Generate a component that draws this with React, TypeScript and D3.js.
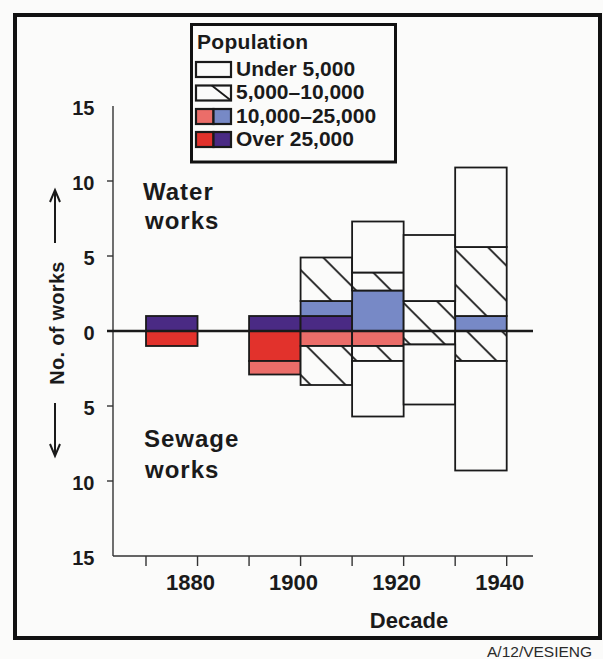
import React from 'react';
import * as d3 from 'd3';

// Decade (start year) of each bar
const decades = [1870, 1890, 1900, 1910, 1920, 1930];
// Water works (upwards), by population class
const waterOver25k = [1, 1, 1, 0, 0, 0];
const water10to25k = [0, 0, 1, 2.7, 0, 1];
const water5to10k = [0, 0, 2.9, 1.2, 2, 4.6];
const waterUnder5k = [0, 0, 0, 3.4, 4.4, 5.3];
// Sewage works (downwards), by population class
const sewageOver25k = [1, 2, 0, 0, 0, 0];
const sewage10to25k = [0, 0.9, 1, 1, 0, 0];
const sewage5to10k = [0, 0, 2.6, 1, 0.9, 2];
const sewageUnder5k = [0, 0, 0, 3.7, 4, 7.3];

const yTickValues = [-15, -10, -5, 0, 5, 10, 15];
const xTickYears = [1870, 1880, 1890, 1900, 1910, 1920, 1930, 1940];
const xLabelYears = [1880, 1900, 1920, 1940];
const legendLabels = ['Under 5,000', '5,000\u201310,000', '10,000\u201325,000', 'Over 25,000'];

const FONT = '"Liberation Sans", Arial, Helvetica, sans-serif';
const BG = '#fbfbfa';
const PURPLE = '#4a2a84';
const BLUE = '#7789c6';
const RED = '#e2322c';
const PINK = '#eb6d69';
const INK = '#1a1a1a';

const keys = ['over', 'mid', 'small', 'under'];

export default function App() {
  const W = 603;
  const H = 659;
  const x = d3.scaleLinear().domain([1870, 1940]).range([146, 506.7]);
  const y = d3.scaleLinear().domain([-15, 15]).range([556, 106]);
  const axisLeft = 113;
  const axisRight = 533;

  const waterRows = decades.map((d, i) => ({
    decade: d,
    over: waterOver25k[i],
    mid: water10to25k[i],
    small: water5to10k[i],
    under: waterUnder5k[i],
  }));
  const sewageRows = decades.map((d, i) => ({
    decade: d,
    over: sewageOver25k[i],
    mid: sewage10to25k[i],
    small: sewage5to10k[i],
    under: sewageUnder5k[i],
  }));
  const stack = d3.stack<any>().keys(keys);
  const waterStack = stack(waterRows);
  const sewageStack = stack(sewageRows);

  const waterFill: Record<string, string> = { over: PURPLE, mid: BLUE, small: 'url(#hatch)', under: BG };
  const sewageFill: Record<string, string> = { over: RED, mid: PINK, small: 'url(#hatch)', under: BG };

  const segs: any[] = [];
  waterStack.forEach((layer) => {
    layer.forEach((p: any) => {
      if (p[1] - p[0] <= 0) return;
      segs.push({ key: 'w' + layer.key + p.data.decade, x0: x(p.data.decade), x1: x(p.data.decade + 10), yTop: y(p[1]), yBot: y(p[0]), fill: waterFill[layer.key] });
    });
  });
  sewageStack.forEach((layer) => {
    layer.forEach((p: any) => {
      if (p[1] - p[0] <= 0) return;
      segs.push({ key: 's' + layer.key + p.data.decade, x0: x(p.data.decade), x1: x(p.data.decade + 10), yTop: y(-p[0]), yBot: y(-p[1]), fill: sewageFill[layer.key] });
    });
  });

  const legX = 196;
  const legRowsY = [62, 85.5, 109, 132];
  const swW = 35;
  const swH = 15;

  return (
    <svg width={W} height={H} style={{ position: 'absolute', left: 0, top: 0 }} fontFamily={FONT}>
      <defs>
        <pattern id="hatch" patternUnits="userSpaceOnUse" x={30.7} y={0} width={35} height={35}>
          <rect width={35} height={35} fill={BG} />
          <path d="M-2,-2 L37,37 M30,-5 L40,5 M-5,30 L5,40" stroke={INK} strokeWidth={1.8} />
        </pattern>
      </defs>
      <rect width={W} height={H} fill={BG} />
      {/* outer frame */}
      <rect x={15} y={15} width={585} height={623} fill="none" stroke="#111" strokeWidth={4} />

      {/* bars */}
      {segs.map((s) => (
        <rect key={s.key} x={s.x0} y={s.yTop} width={s.x1 - s.x0} height={s.yBot - s.yTop} fill={s.fill} stroke={INK} strokeWidth={1.8} />
      ))}

      {/* y axis */}
      <line x1={axisLeft} x2={axisLeft} y1={y(15)} y2={y(-15)} stroke="#333" strokeWidth={1.4} />
      {yTickValues.filter((v) => Math.abs(v) !== 15 && v !== 0).map((v) => (
        <line key={'yt' + v} x1={axisLeft - 6} x2={axisLeft} y1={y(v)} y2={y(v)} stroke="#333" strokeWidth={1.4} />
      ))}
      {yTickValues.map((v) => (
        <text key={'yl' + v} x={94.5} y={y(v) + 9} textAnchor="end" fontSize={20} fontWeight="bold" fill={INK}>
          {Math.abs(v)}
        </text>
      ))}
      {/* zero line */}
      <line x1={axisLeft - 6} x2={axisRight} y1={y(0)} y2={y(0)} stroke={INK} strokeWidth={2.4} />

      {/* x axis */}
      <line x1={axisLeft} x2={axisRight} y1={y(-15)} y2={y(-15)} stroke="#333" strokeWidth={1.4} />
      {xTickYears.map((yr) => (
        <line key={'xt' + yr} x1={x(yr)} x2={x(yr)} y1={y(-15)} y2={y(-15) + 10} stroke="#333" strokeWidth={1.4} />
      ))}
      {xLabelYears.map((yr) => (
        <text key={'xl' + yr} x={x(yr) - 7} y={590} textAnchor="middle" fontSize={22} fontWeight="bold" fill={INK}>
          {yr}
        </text>
      ))}
      <text x={409} y={628} textAnchor="middle" fontSize={22} fontWeight="bold" fill={INK}>Decade</text>

      {/* y title with arrows */}
      <text transform="translate(63.5,323) rotate(-90)" textAnchor="middle" fontSize={20} fontWeight="bold" letterSpacing={0.3} fill={INK}>
        No. of works
      </text>
      <path d="M55,243 L55,191 M50,202 L55,190 L60,202" fill="none" stroke={INK} strokeWidth={2} />
      <path d="M55,403 L55,455 M50,444 L55,456 L60,444" fill="none" stroke={INK} strokeWidth={2} />

      {/* annotations */}
      <text x={143} y={200} fontSize={24} fontWeight="bold" letterSpacing={1} fill={INK}>Water</text>
      <text x={145} y={228.5} fontSize={24} fontWeight="bold" letterSpacing={1} fill={INK}>works</text>
      <text x={144} y={447} fontSize={24} fontWeight="bold" letterSpacing={1} fill={INK}>Sewage</text>
      <text x={145} y={478} fontSize={24} fontWeight="bold" letterSpacing={1} fill={INK}>works</text>

      {/* legend */}
      <rect x={191.5} y={24.5} width={204} height={137.5} fill={BG} stroke="#111" strokeWidth={3} />
      <text x={197} y={48.5} fontSize={21} fontWeight="bold" letterSpacing={0.3} fill={INK}>Population</text>
      {legendLabels.map((lab, i) => {
        const ry = legRowsY[i];
        return (
          <g key={'lg' + i}>
            {i === 0 && <rect x={legX} y={ry} width={swW} height={swH} fill={BG} stroke={INK} strokeWidth={2.2} />}
            {i === 1 && (
              <g>
                <rect x={legX} y={ry} width={swW} height={swH} fill={BG} stroke={INK} strokeWidth={2.2} />
                <line x1={legX + swW * 0.45} y1={ry} x2={legX + swW} y2={ry + swH} stroke={INK} strokeWidth={1.8} />
              </g>
            )}
            {i >= 2 && (
              <g>
                <rect x={legX} y={ry} width={swW / 2} height={swH} fill={i === 2 ? PINK : RED} stroke={INK} strokeWidth={2.2} />
                <rect x={legX + swW / 2} y={ry} width={swW / 2} height={swH} fill={i === 2 ? BLUE : PURPLE} stroke={INK} strokeWidth={2.2} />
              </g>
            )}
            <text x={236} y={ry + 13.5} fontSize={21} fontWeight="bold" fill={INK}>{lab}</text>
          </g>
        );
      })}

      <text x={487} y={657} fontSize={15.5} fill="#2a2a2a">A/12/VESIENG</text>
    </svg>
  );
}
